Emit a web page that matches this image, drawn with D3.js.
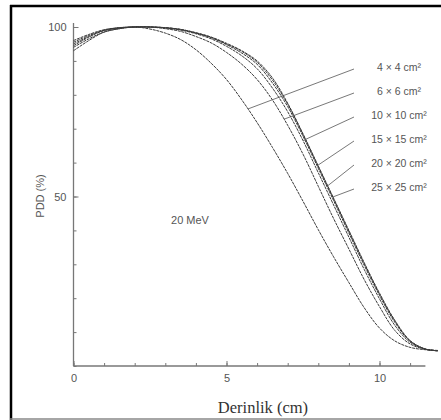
<!DOCTYPE html>
<html>
<head>
<meta charset="utf-8">
<script src="https://cdn.jsdelivr.net/npm/d3@7"></script>
<style>
  body { margin: 0; background: #fff; }
  svg { display: block; }
  .tick text { fill: #555; font-family: Arial, "Liberation Sans", sans-serif; font-size: 11px; }
</style>
</head>
<body>
<div id="chart"></div>
<script>
var width = 441,
	height = 420;

// depth in cm
var depth = [0, 0.5, 1, 1.5, 2, 2.5, 3, 3.5, 4, 4.5, 5, 5.5, 6, 6.5, 7, 7.5, 8, 8.5, 9, 9.5, 10, 10.5, 11, 11.5, 11.9];

// PDD (%) per field size
var pdd4  = [94, 96.5, 98.5, 99.5, 100, 99.4, 98.2, 96.3, 93.3, 89.3, 84.5, 78.5, 71.8, 64.5, 56.8, 48.6, 40.2, 32.2, 24.6, 17.2, 11.2, 7.4, 5.5, 4.8, 4.6];
var pdd6  = [93, 96, 98.5, 99.5, 100, 100, 99.5, 98.7, 97.2, 95.3, 92.5, 89, 84.5, 78.5, 71, 62.5, 53, 43.5, 34.5, 25.5, 17.5, 10.5, 6.5, 4.9, 4.5];
var pdd10 = [94.5, 97, 99, 99.8, 100, 100, 99.7, 99.1, 98, 96.5, 94.3, 91.5, 87.7, 82, 75, 66.5, 57, 47.5, 38, 28.5, 19.8, 12, 7, 5, 4.5];
var pdd15 = [95, 97.2, 99, 99.7, 100, 100, 99.8, 99.2, 98.2, 96.8, 94.8, 92.3, 89, 83.5, 76.5, 67.8, 58.3, 48.8, 39.2, 29.7, 20.8, 12.9, 7.3, 5, 4.5];
var pdd20 = [96, 97.8, 99.2, 99.8, 100, 100, 99.8, 99.3, 98.3, 97, 95, 92.8, 89.6, 84.4, 77.2, 68.3, 58.8, 49.3, 39.7, 30.2, 21.2, 13.3, 7.4, 5, 4.5];
var pdd25 = [95.5, 97.5, 99, 99.7, 100, 100, 99.8, 99.3, 98.3, 97, 95.2, 93, 90, 85, 77.5, 68.5, 59, 49.5, 40, 30.5, 21.5, 13.5, 7.5, 5, 4.5];

var fieldLabels = ['4 × 4 cm²', '6 × 6 cm²', '10 × 10 cm²', '15 × 15 cm²', '20 × 20 cm²', '25 × 25 cm²'];
// depth where each label's pointer touches its curve
var leaderDepth = [5.7, 6.88, 7.5, 7.96, 8.3, 8.48];

var xTicks = [0, 5, 10];
var yTicks = [0, 50, 100];

var series = [pdd4, pdd6, pdd10, pdd15, pdd20, pdd25];

var svg = d3.select('#chart').append('svg')
	.attr('width', width)
	.attr('height', height);

// frame
svg.append('line').attr('x1', 11).attr('y1', 5).attr('x2', 11).attr('y2', 420)
	.attr('stroke', '#000').attr('stroke-width', 2.5);
svg.append('line').attr('x1', 10).attr('y1', 6).attr('x2', 441).attr('y2', 6)
	.attr('stroke', '#000').attr('stroke-width', 2.5);
svg.append('line').attr('x1', 10).attr('y1', 419).attr('x2', 441).attr('y2', 419)
	.attr('stroke', '#888').attr('stroke-width', 1.5);

var x = d3.scaleLinear().domain([0, 12]).range([73.5, 440.7]);
var y = d3.scaleLinear().domain([0, 100]).range([366, 27]);

var axisColor = '#777';

// x axis
var gx = svg.append('g').attr('transform', 'translate(0,' + y(0) + ')');
gx.append('line').attr('x1', x(0)).attr('x2', x(11.5))
	.attr('stroke', axisColor).attr('stroke-width', 1.3);
gx.append('g').call(d3.axisBottom(x).tickValues(d3.range(0, 12)).tickSize(-3).tickFormat(''))
	.call(function(g) { g.select('.domain').remove(); })
	.selectAll('line').attr('stroke', axisColor);
gx.append('g').call(d3.axisBottom(x).tickValues(xTicks).tickSize(-5).tickPadding(8).tickFormat(d3.format('d')))
	.call(function(g) { g.select('.domain').remove(); })
	.selectAll('line').attr('stroke', axisColor);

// y axis
var gy = svg.append('g').attr('transform', 'translate(' + x(0) + ',0)');
gy.append('line').attr('y1', y(0)).attr('y2', y(101.2))
	.attr('stroke', axisColor).attr('stroke-width', 1.3);
gy.append('g').call(d3.axisLeft(y).tickValues(d3.range(0, 101, 10)).tickSize(-3).tickFormat(''))
	.call(function(g) { g.select('.domain').remove(); })
	.selectAll('line').attr('stroke', axisColor);
gy.append('g').call(d3.axisLeft(y).tickValues(yTicks.slice(1)).tickSize(-5).tickPadding(7).tickFormat(d3.format('d')))
	.call(function(g) { g.select('.domain').remove(); })
	.selectAll('line').attr('stroke', axisColor);

// axis titles
svg.append('text')
	.attr('x', 263).attr('y', 413)
	.attr('text-anchor', 'middle')
	.style('font-family', '"Liberation Serif", "DejaVu Serif", serif')
	.style('font-size', '16.5px')
	.attr('fill', '#333')
	.text('Derinlik (cm)');

svg.append('text')
	.attr('transform', 'translate(44,196) rotate(-90)')
	.attr('text-anchor', 'middle')
	.style('font-family', 'Arial, "Liberation Sans", sans-serif')
	.style('font-size', '11px')
	.attr('fill', '#555')
	.text('PDD (%)');

svg.append('text')
	.attr('x', 190).attr('y', 224)
	.attr('text-anchor', 'middle')
	.style('font-family', 'Arial, "Liberation Sans", sans-serif')
	.style('font-size', '11px')
	.attr('fill', '#555')
	.text('20 MeV');

// curves
var line = d3.line()
	.x(function(d) { return x(d[0]); })
	.y(function(d) { return y(d[1]); })
	.curve(d3.curveCatmullRom);

svg.selectAll('.pdd')
	.data(series)
	.enter().append('path')
	.attr('class', 'pdd')
	.attr('fill', 'none')
	.attr('stroke', '#3a3a3a')
	.attr('stroke-width', 1)
	.attr('stroke-dasharray', '3,0.8')
	.attr('d', function(s) { return line(depth.map(function(d, i) { return [d, s[i]]; })); });

// labels with pointer lines
function valueAt(s, d) {
	var i = d3.bisectRight(depth, d) - 1;
	var t = (d - depth[i]) / (depth[i + 1] - depth[i]);
	return s[i] + t * (s[i + 1] - s[i]);
}

var labelY = d3.scalePoint().domain(fieldLabels).range([67, 187]);

svg.selectAll('.leader')
	.data(fieldLabels)
	.enter().append('line')
	.attr('class', 'leader')
	.attr('x1', 354)
	.attr('y1', function(d) { return labelY(d) + 2; })
	.attr('x2', function(d, i) { return x(leaderDepth[i]); })
	.attr('y2', function(d, i) { return y(valueAt(series[i], leaderDepth[i])); })
	.attr('stroke', '#555')
	.attr('stroke-width', 0.8);

svg.selectAll('.flabel')
	.data(fieldLabels)
	.enter().append('text')
	.attr('class', 'flabel')
	.attr('x', 399)
	.attr('y', function(d) { return labelY(d) + 4; })
	.attr('text-anchor', 'middle')
	.style('font-family', 'Arial, "Liberation Sans", sans-serif')
	.style('font-size', '10.5px')
	.attr('fill', '#555')
	.text(function(d) { return d; });
</script>
</body>
</html>
